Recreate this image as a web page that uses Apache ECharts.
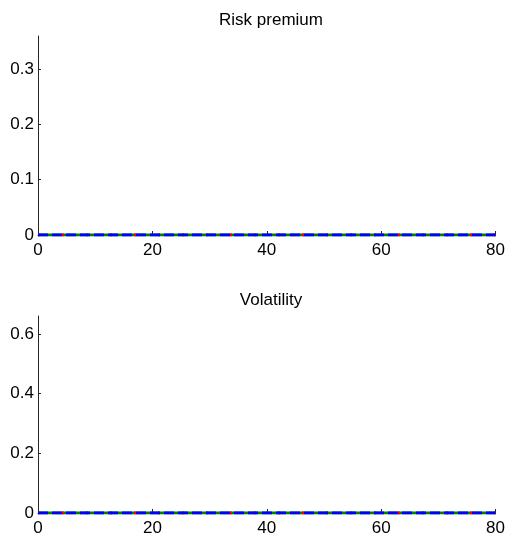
<!DOCTYPE html>
<html><head><meta charset="utf-8">
<script src="https://cdn.jsdelivr.net/npm/echarts@6/dist/echarts.min.js"></script>
<style>html,body{margin:0;padding:0;background:#fff}#c{width:508px;height:537px}</style>
</head><body><div id="c"></div>
<script>
const periods = [0,1,2,3,4,5,6,7,8,9,10,11,12,13,14,15,16,17,18,19,20,21,22,23,24,25,26,27,28,29,30,31,32,33,34,35,36,37,38,39,40,41,42,43,44,45,46,47,48,49,50,51,52,53,54,55,56,57,58,59,60,61,62,63,64,65,66,67,68,69,70,71,72,73,74,75,76,77,78,79,80];
const zeros81 = [0,0,0,0,0,0,0,0,0,0,0,0,0,0,0,0,0,0,0,0,0,0,0,0,0,0,0,0,0,0,0,0,0,0,0,0,0,0,0,0,0,0,0,0,0,0,0,0,0,0,0,0,0,0,0,0,0,0,0,0,0,0,0,0,0,0,0,0,0,0,0,0,0,0,0,0,0,0,0,0,0];
const riskPremiumRed = zeros81;
const riskPremiumGreen = zeros81;
const riskPremiumBlue = zeros81;
const volatilityRed = zeros81;
const volatilityGreen = zeros81;
const volatilityBlue = zeros81;
const titles = ['Risk premium', 'Volatility'];

const font = 'Liberation Sans, Arial, sans-serif';
function pairs(xs, ys){ return xs.map((x,i)=>[x, ys[i]]); }
function xAxis(gi){ return {type:'value', gridIndex:gi, min:0, max:80, interval:20,
  axisLine:{show:true, lineStyle:{color:'#262626', width:1}},
  axisTick:{show:true, inside:true, length:4, lineStyle:{color:'#262626'}},
  axisLabel:{color:'#000', fontSize:17, fontFamily:font, margin:7},
  splitLine:{show:false}}; }
function yAxis(gi, max, interval){ return {type:'value', gridIndex:gi, min:0, max:max, interval:interval,
  axisLine:{show:true, onZero:false, lineStyle:{color:'#262626', width:1}},
  axisTick:{show:true, inside:true, length:3, lineStyle:{color:'#262626'}},
  axisLabel:{color:'#000', fontSize:17, fontFamily:font, margin:4, showMaxLabel:false},
  splitLine:{show:false}}; }
function line(gi, data, color, type, z){ return {type:'line', xAxisIndex:gi, yAxisIndex:gi, data:pairs(periods,data),
  showSymbol:false, symbol:'none', silent:true, animation:false, z:z,
  lineStyle:{color:color, width:3, type:type}}; }

const chart = echarts.init(document.getElementById('c'), null, {renderer:'canvas'});
chart.setOption({
  animation:false,
  backgroundColor:'#fff',
  title:[
    {text:titles[0], left:266, top:7, textAlign:'center', textStyle:{fontSize:17, fontWeight:'normal', color:'#000', fontFamily:font}},
    {text:titles[1], left:266, top:287, textAlign:'center', textStyle:{fontSize:17, fontWeight:'normal', color:'#000', fontFamily:font}}
  ],
  grid:[
    {left:38, right:12, top:36, height:199, containLabel:false},
    {left:38, right:12, top:316, height:198, containLabel:false}
  ],
  xAxis:[xAxis(0), xAxis(1)],
  yAxis:[yAxis(0, 0.36, 0.1), yAxis(1, 0.66, 0.2)],
  series:[
    line(0, riskPremiumGreen, '#008000', 'solid', 2),
    line(0, riskPremiumRed, '#ff0000', [2,22], 3),
    line(0, riskPremiumBlue, '#0000ff', [10,4], 4),
    line(1, volatilityGreen, '#008000', 'solid', 2),
    line(1, volatilityRed, '#ff0000', [2,22], 3),
    line(1, volatilityBlue, '#0000ff', [10,4], 4)
  ]
});
</script></body></html>
